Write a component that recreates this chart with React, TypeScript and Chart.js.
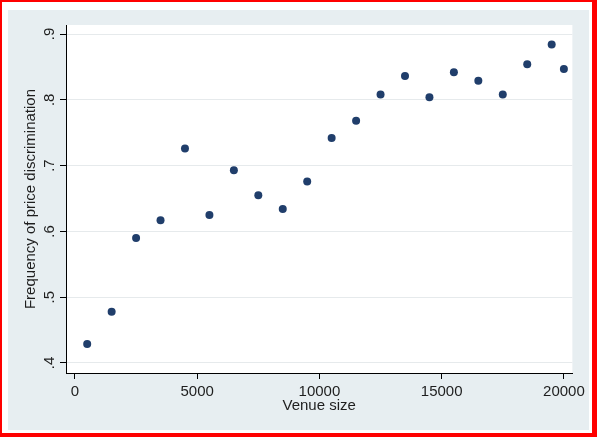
import React, { useEffect, useRef } from "react";
import { Chart, registerables } from "chart.js";

Chart.register(...registerables);

const VENUE_SIZE = [500, 1500, 2500, 3500, 4500, 5500, 6500, 7500, 8500, 9500, 10500, 11500, 12500, 13500, 14500, 15500, 16500, 17500, 18500, 19500, 20000];
const FREQUENCY = [0.429, 0.478, 0.59, 0.617, 0.726, 0.625, 0.693, 0.655, 0.634, 0.676, 0.742, 0.768, 0.808, 0.836, 0.804, 0.842, 0.829, 0.808, 0.854, 0.884, 0.847];

const X_TICKS = [0, 5000, 10000, 15000, 20000];
const X_TICK_LABELS = ["0", "5000", "10000", "15000", "20000"];
const Y_TICKS = [0.4, 0.5, 0.6, 0.7, 0.8, 0.9];
const Y_TICK_LABELS = [".4", ".5", ".6", ".7", ".8", ".9"];

const X_MIN = -367;
const X_MAX = 20347;
const Y_MIN = 0.3848;
const Y_MAX = 0.9137;

const X_TITLE = "Venue size";
const Y_TITLE = "Frequency of price discrimination";

const FONT_FAMILY = '"Liberation Sans", Arial, Helvetica, sans-serif';
const TEXT_COLOR = "#1e1e1e";
const POINT_COLOR = "#203e6b";

export default function App() {
  const canvasRef = useRef<HTMLCanvasElement | null>(null);

  useEffect(() => {
    const canvas = canvasRef.current;
    if (!canvas) return;

    const plotBg = {
      id: "plotBg",
      beforeDraw(chart: any) {
        const { ctx, chartArea } = chart;
        ctx.save();
        ctx.fillStyle = "#ffffff";
        ctx.fillRect(chartArea.left, chartArea.top, chartArea.right - chartArea.left, chartArea.bottom - chartArea.top);
        ctx.restore();
      },
    };

    const yLabels = {
      id: "yLabels",
      afterDraw(chart: any) {
        const { ctx } = chart;
        const ys = chart.scales.y;
        const baseX = ys.right - 12;
        ctx.save();
        ctx.font = `15px ${FONT_FAMILY}`;
        ctx.fillStyle = TEXT_COLOR;
        ctx.textAlign = "center";
        ctx.textBaseline = "alphabetic";
        Y_TICKS.forEach((v, i) => {
          const y = ys.getPixelForValue(v);
          ctx.save();
          ctx.translate(baseX, y);
          ctx.rotate(-Math.PI / 2);
          ctx.fillText(Y_TICK_LABELS[i], 0, 0);
          ctx.restore();
        });
        ctx.restore();
      },
    };

    const chart = new Chart(canvas, {
      type: "scatter",
      data: {
        datasets: [
          {
            data: VENUE_SIZE.map((x, i) => ({ x, y: FREQUENCY[i] })),
            backgroundColor: POINT_COLOR,
            borderColor: POINT_COLOR,
            borderWidth: 0,
            pointRadius: 4,
            pointHoverRadius: 4,
          },
        ],
      },
      options: {
        responsive: false,
        animation: false,
        devicePixelRatio: 1,
        layout: { padding: { top: 15, right: 15, left: 0, bottom: 0 } },
        plugins: {
          legend: { display: false },
          tooltip: { enabled: false },
        },
        scales: {
          x: {
            type: "linear",
            min: X_MIN,
            max: X_MAX,
            afterBuildTicks: (s: any) => {
              s.ticks = X_TICKS.map((v) => ({ value: v }));
            },
            afterFit: (s: any) => {
              s.height = 57;
            },
            grid: {
              drawOnChartArea: false,
              drawTicks: true,
              tickLength: 6,
              tickColor: "#000000",
              tickWidth: 1,
            },
            border: { color: "#000000", width: 1 },
            ticks: {
              autoSkip: false,
              maxRotation: 0,
              minRotation: 0,
              padding: 4,
              color: TEXT_COLOR,
              font: { family: FONT_FAMILY, size: 15 },
              callback: (value: any) => {
                const i = X_TICKS.indexOf(Number(value));
                return i >= 0 ? X_TICK_LABELS[i] : "";
              },
            },
            title: {
              display: true,
              text: X_TITLE,
              color: TEXT_COLOR,
              font: { family: FONT_FAMILY, size: 15 },
              padding: { top: 0, bottom: 15 },
            },
          },
          y: {
            type: "linear",
            min: Y_MIN,
            max: Y_MAX,
            afterBuildTicks: (s: any) => {
              s.ticks = Y_TICKS.map((v) => ({ value: v }));
            },
            afterFit: (s: any) => {
              s.width = 58;
            },
            grid: {
              color: "#e6eaec",
              lineWidth: 1,
              drawTicks: true,
              tickLength: 6,
              tickColor: "#000000",
              tickWidth: 1,
            },
            border: { color: "#000000", width: 1 },
            ticks: { display: false },
            title: {
              display: true,
              text: Y_TITLE,
              color: TEXT_COLOR,
              font: { family: FONT_FAMILY, size: 15 },
              padding: { top: 14, bottom: 0 },
            },
          },
        },
      },
      plugins: [plotBg, yLabels],
    });

    return () => {
      chart.destroy();
    };
  }, []);

  return (
    <div style={{ position: "fixed", left: 0, top: 0, width: 597, height: 437, background: "#ff0000" }}>
      <div style={{ position: "absolute", left: 2, top: 2, width: 590, height: 431, background: "#ffffff" }} />
      <div style={{ position: "absolute", left: 8, top: 10, width: 581, height: 420, background: "#e7eef1" }}>
        <canvas ref={canvasRef} width={581} height={420} style={{ display: "block", width: 581, height: 420 }} />
      </div>
    </div>
  );
}
